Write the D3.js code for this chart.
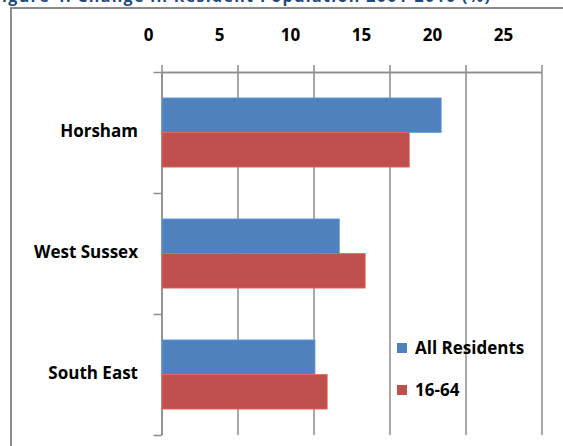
<!DOCTYPE html>
<html lang="en">
<meta charset="utf-8">
<title>Change in Resident Population</title>
<style>
	body { margin: 0; background: #fff; }
	svg { display: block; }
	.lbl { font-family: "Open Sans", sans-serif; font-weight: bold; font-size: 17px; fill: #000; }
	.title { font-family: "Open Sans", sans-serif; font-weight: bold; font-size: 16px; fill: #1F497D; }
	.grid line { stroke: #8c8c8c; stroke-width: 1.5; }
	.grid path { stroke: #8c8c8c; stroke-width: 1.5; }
</style>
<body>
<script src="https://cdn.jsdelivr.net/npm/d3@7"></script>
<script>
	var categories = ["Horsham", "West Sussex", "South East"];
	var series = ["All Residents", "16-64"];
	var allResidents = [18.4, 11.7, 10.1];
	var age1664 = [16.3, 13.4, 10.9];
	var xTicks = [0, 5, 10, 15, 20, 25];
	var colors = ["#4F81BD", "#C0504D"];

	var W = 563, H = 446;
	var svg = d3.select("body").append("svg")
		.attr("width", W)
		.attr("height", H);

	// caption, cut off by the top edge as in the source image
	svg.append("text")
		.attr("class", "title")
		.attr("x", -8)
		.attr("y", 1.5)
		.attr("textLength", 498)
		.attr("lengthAdjust", "spacing")
		.text("Figure 4: Change in Resident Population 2001-2010 (%)");

	// chart border
	svg.append("path")
		.attr("d", "M11," + H + "V8H" + W)
		.attr("fill", "none")
		.attr("stroke", "#8c8c8c")
		.attr("stroke-width", 2);

	var plotL = 161.5, plotR = 541.5, plotT = 72, plotB = 435;

	var x = d3.scaleLinear().domain([0, 25]).range([plotL, plotR]);
	// tick labels in the picture sit on a slightly narrower spacing
	var xLab = d3.scaleLinear().domain([0, 25]).range([148, 503]);

	var y0 = d3.scaleBand().domain(categories).range([plotT, plotB]);
	var y1 = d3.scaleBand().domain(series).range([0, y0.bandwidth()]).paddingOuter(0.75);
	var yEdge = d3.scaleLinear().domain([0, categories.length]).range([plotT, plotB]);

	// vertical gridlines
	svg.append("g")
		.attr("class", "grid")
		.attr("transform", "translate(0," + plotT + ")")
		.call(d3.axisTop(x).tickValues(xTicks).tickSize(-(plotB - plotT)).tickSizeOuter(0).tickFormat(""));

	// little outward ticks above the top line
	svg.append("g")
		.attr("class", "grid")
		.attr("transform", "translate(0," + plotT + ")")
		.call(d3.axisTop(x).tickValues(xTicks).tickSize(7).tickSizeOuter(0).tickFormat(""));

	// tick labels
	var lab = svg.append("g")
		.attr("transform", "translate(0,41)")
		.call(d3.axisTop(xLab).tickValues(xTicks).tickSize(0).tickPadding(0));
	lab.select(".domain").remove();
	lab.selectAll("text").attr("class", "lbl").attr("font-family", null).attr("font-size", null);

	// left axis with category boundaries
	svg.append("g")
		.attr("class", "grid")
		.attr("transform", "translate(" + plotL + ",0)")
		.call(d3.axisLeft(yEdge).tickValues(d3.range(categories.length + 1)).tickSize(8).tickSizeOuter(0).tickFormat(""));

	// bars
	var rows = categories.map(function(c, i) {
		return {cat: c, vals: [allResidents[i], age1664[i]]};
	});

	var g = svg.selectAll(".row")
		.data(rows)
		.enter().append("g")
		.attr("class", "row")
		.attr("transform", function(d) { return "translate(0," + y0(d.cat) + ")"; });

	g.selectAll("rect")
		.data(function(d) { return d.vals.map(function(v, j) { return {s: series[j], v: v, j: j}; }); })
		.enter().append("rect")
		.attr("x", x(0) + 0.5)
		.attr("y", function(d) { return y1(d.s); })
		.attr("width", function(d) { return x(d.v) - x(0) - 0.5; })
		.attr("height", y1.bandwidth())
		.attr("fill", function(d) { return colors[d.j]; })
		.attr("stroke", function(d) { return d3.color(colors[d.j]).brighter(0.6); })
		.attr("stroke-width", 0.8);

	// category labels
	svg.selectAll(".cat")
		.data(categories)
		.enter().append("text")
		.attr("class", "lbl cat")
		.attr("x", 138)
		.attr("y", function(d) { return y0(d) + y0.bandwidth() / 2 - 1; })
		.attr("dy", "0.35em")
		.attr("text-anchor", "end")
		.text(function(d) { return d; });

	// legend
	var leg = svg.selectAll(".leg")
		.data(series)
		.enter().append("g")
		.attr("class", "leg")
		.attr("transform", function(d, i) { return "translate(397," + (343 + i * 42) + ")"; });

	leg.append("rect")
		.attr("width", 10)
		.attr("height", 10)
		.attr("fill", function(d, i) { return colors[i]; });

	leg.append("text")
		.attr("class", "lbl")
		.attr("x", 18)
		.attr("y", 5)
		.attr("dy", "0.35em")
		.text(function(d) { return d; });
</script>
</body>
</html>
